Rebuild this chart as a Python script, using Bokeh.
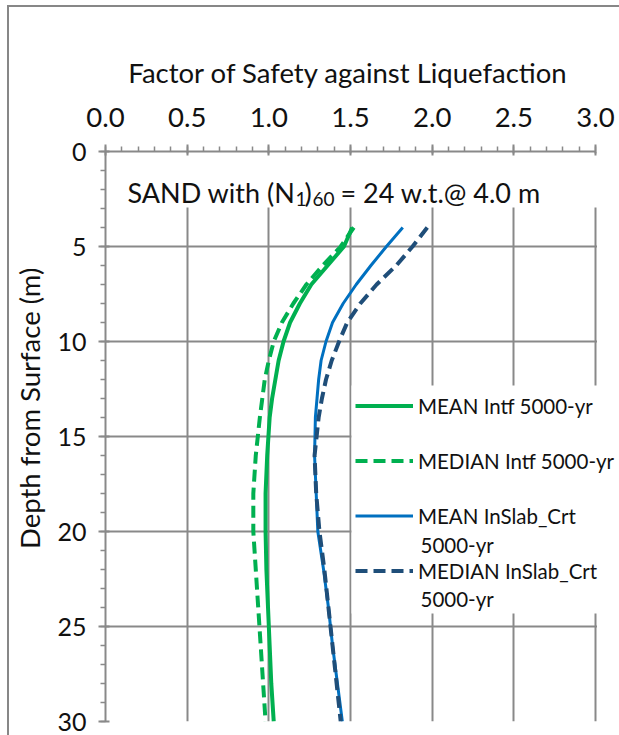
from bokeh.plotting import figure
from bokeh.models import Range1d, Label, Legend, LegendItem, BoxAnnotation, FixedTicker
from bokeh.embed import file_html
from bokeh.resources import INLINE

# ---------------- data ----------------
depth = [4, 5, 6, 7, 8, 9, 10, 11, 12, 13, 14, 16, 18, 20, 22, 24, 26, 28, 30]
mean_intf = [1.51, 1.46, 1.36, 1.26, 1.19, 1.13, 1.09, 1.06, 1.04, 1.02, 1.005, 0.99, 0.98, 0.98, 0.985, 0.995, 1.005, 1.015, 1.03]
median_intf = [1.52, 1.44, 1.33, 1.23, 1.15, 1.08, 1.03, 1.00, 0.975, 0.96, 0.945, 0.92, 0.905, 0.905, 0.92, 0.935, 0.95, 0.965, 0.98]
mean_inslab = [1.82, 1.72, 1.625, 1.535, 1.455, 1.39, 1.35, 1.32, 1.305, 1.295, 1.285, 1.28, 1.29, 1.30, 1.335, 1.365, 1.39, 1.42, 1.45]
median_inslab = [1.97, 1.88, 1.78, 1.66, 1.56, 1.48, 1.43, 1.385, 1.35, 1.325, 1.305, 1.28, 1.29, 1.31, 1.34, 1.365, 1.39, 1.415, 1.44]

x_ticks = [0.0, 0.5, 1.0, 1.5, 2.0, 2.5, 3.0]
x_tick_labels = ["0.0", "0.5", "1.0", "1.5", "2.0", "2.5", "3.0"]
y_ticks = [0, 5, 10, 15, 20, 25, 30]
y_tick_labels = ["0", "5", "10", "15", "20", "25", "30"]

series_names = ["MEAN Intf 5000-yr", "MEDIAN Intf 5000-yr",
                "MEAN InSlab_Crt\n5000-yr", "MEDIAN InSlab_Crt\n5000-yr"]

FONT = "Lato"
GRID = "#898989"
TXT = "#111111"
BIG = "27.5px"
ANN = "27px"
LEG = "20.5px"
NB = "\u00a0"

# frame geometry in pixels (for annotation placement)
FL, FT, FB = 105, 151, 721
PXU = 490 / 3.0          # pixels per unit of factor of safety
PXM = (FB - FT) / 30.0   # pixels per metre
def vx(px):
    return (px - FL) / PXU
def vy(py):
    return (py - FT) / PXM

XMAX = vx(619)

p = figure(width=619, height=735, output_backend="svg", toolbar_location=None,
           x_range=Range1d(0, XMAX), y_range=Range1d(30, 0),
           x_axis_location="above",
           min_border_left=FL, min_border_right=0,
           min_border_top=FT, min_border_bottom=735 - FB)
p.outline_line_color = None
p.background_fill_color = "white"
p.border_fill_alpha = 0
p.styles = {"background": "linear-gradient(#878787,#878787) 7px 5px / 2px 740px no-repeat, "
                          "linear-gradient(#878787,#878787) 7px 5px / 620px 2px no-repeat, #ffffff"}

# axes
xa = p.xaxis[0]
xa.ticker = FixedTicker(ticks=x_ticks, minor_ticks=[i / 10 for i in range(31)])
xa.major_label_overrides = {t: l for t, l in zip(x_ticks, x_tick_labels)}
xa.axis_label = "Factor of Safety against Liquefaction" + NB * 4
xa.bounds = (0, 3)
ya = p.yaxis[0]
ya.ticker = FixedTicker(ticks=y_ticks, minor_ticks=list(range(31)))
ya.major_label_overrides = {t: l for t, l in zip(y_ticks, y_tick_labels)}
ya.axis_label = NB * 8 + "Depth from Surface (m)"

for ax in (xa, ya):
    ax.axis_line_color = GRID
    ax.axis_line_width = 2
    ax.major_tick_line_color = GRID
    ax.major_tick_line_width = 2
    ax.minor_tick_line_color = GRID
    ax.minor_tick_line_width = 1.5
    ax.major_tick_out = 7
    ax.major_tick_in = 4
    ax.minor_tick_out = 5
    ax.minor_tick_in = 0
    ax.major_label_text_font = FONT
    ax.major_label_text_font_size = BIG
    ax.major_label_text_color = TXT
    ax.axis_label_text_font = FONT
    ax.axis_label_text_font_size = BIG
    ax.axis_label_text_font_style = "normal"
    ax.axis_label_text_color = TXT
ya.major_label_text_font_size = "25px"
xa.major_label_standoff = 18
xa.axis_label_standoff = 16
ya.major_label_standoff = 12
ya.axis_label_standoff = 8

p.xgrid.ticker = FixedTicker(ticks=x_ticks)
p.ygrid.ticker = FixedTicker(ticks=y_ticks)
for g in (p.xgrid[0], p.ygrid[0]):
    g.grid_line_color = GRID
    g.grid_line_width = 2

# white areas over the grid: right of the plot area, annotation box, legend box
p.add_layout(BoxAnnotation(left=3.0 + 1.5 / PXU, right=XMAX, top=0, bottom=30,
                           fill_color="white", fill_alpha=1, line_color=None, level="underlay"))
p.add_layout(BoxAnnotation(left=vx(FL + 2), right=XMAX, top=0.1, bottom=vy(207),
                           fill_color="white", fill_alpha=1, line_color=None, level="underlay"))
p.add_layout(BoxAnnotation(left=vx(351), right=XMAX, top=vy(385), bottom=vy(613),
                           fill_color="white", fill_alpha=1, line_color=None, level="underlay"))

# curves
r1 = p.line(mean_intf, depth, line_color="#00B050", line_width=4)
r2 = p.line(median_intf, depth, line_color="#00B050", line_width=4, line_dash="12 6")
r3 = p.line(mean_inslab, depth, line_color="#0070C0", line_width=3)
r4 = p.line(median_inslab, depth, line_color="#1F4E79", line_width=4, line_dash="12 6")

first_lines = [n.split("\n")[0] for n in series_names]
legend = Legend(items=[LegendItem(label=n, renderers=[r]) for n, r in zip(first_lines, [r1, r2, r3, r4])],
                location=(355 - FL, FB - 584),
                background_fill_alpha=0,
                border_line_color=None,
                label_text_font=FONT, label_text_font_size=LEG, label_text_color=TXT,
                glyph_width=58, glyph_height=27, label_standoff=5, label_height=27,
                spacing=28, padding=6, margin=0)
p.add_layout(legend, "center")

# second lines of the wrapped legend labels
for name, py in zip(series_names[2:], [544, 598]):
    p.add_layout(Label(x=vx(420), y=vy(py), text=name.split("\n")[1], text_font=FONT,
                       text_font_size=LEG, text_color=TXT, text_baseline="middle", text_align="left"))

# annotation with subscripts
def lab(text, px, py, size):
    p.add_layout(Label(x=vx(px), y=vy(py), text=text, text_font=FONT, text_font_size=size,
                       text_color=TXT, text_baseline="alphabetic", text_align="left"))

lab("SAND with (N", 127, 192, ANN)
lab("1", 295, 198, "19px")
lab(")", 304, 192, ANN)
lab("60", 312, 198, "19px")
lab("= 24 w.t.@ 4.0 m", 340, 192, ANN)

open("out.html", "w").write(file_html(p, INLINE))
